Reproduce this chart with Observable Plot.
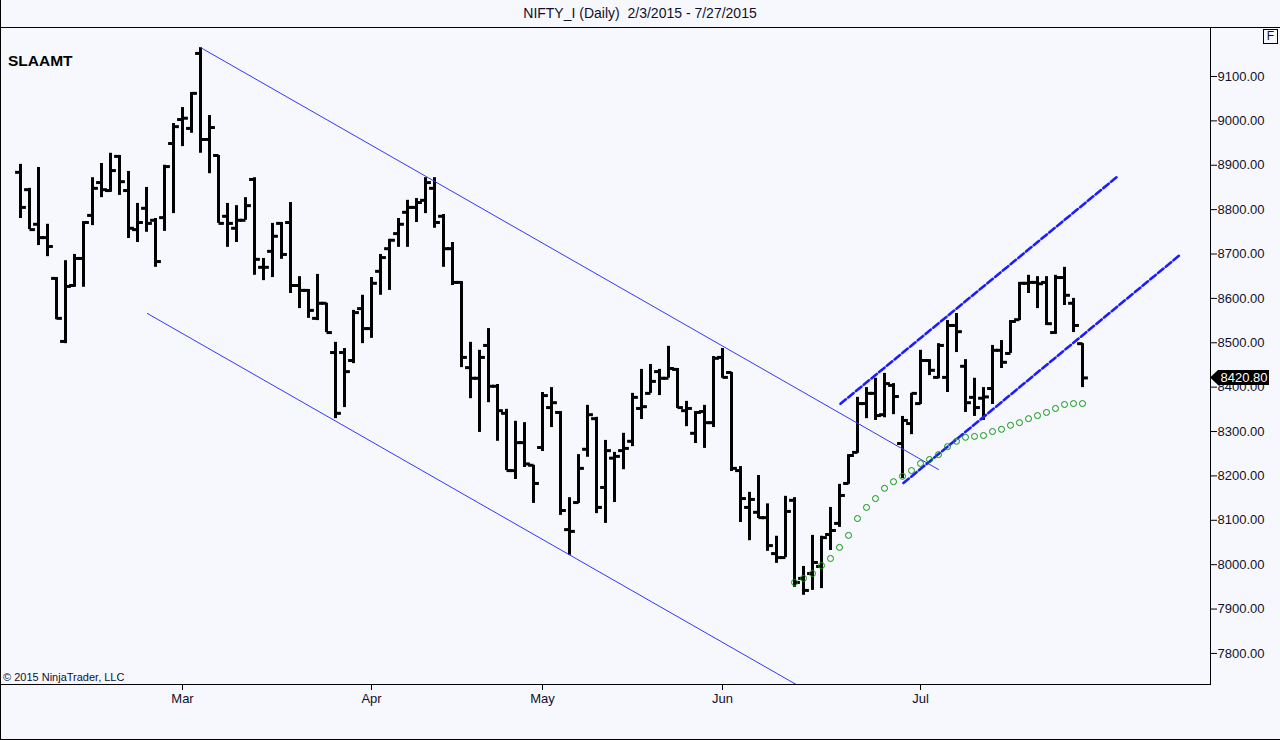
<!DOCTYPE html>
<html>
<head>
<meta charset="utf-8">
<script src="https://cdn.jsdelivr.net/npm/d3@7"></script>
<script src="https://cdn.jsdelivr.net/npm/@observablehq/plot@0.6"></script>
<style>
  html, body { margin: 0; padding: 0; background: #f7f8fe; }
  #wrap { position: relative; width: 1280px; height: 740px; overflow: hidden; background: #f7f8fe;
          font-family: "Liberation Sans", Arial, sans-serif; color: #10102a; }
  .ov { position: absolute; white-space: nowrap; }
  #title { top: 5px; left: 0; width: 1280px; text-align: center; font-size: 14px; line-height: 16px; }
  #topline { top: 26.5px; left: 0; width: 1280px; height: 0; border-top: 1px solid #000; }
  #border { top: 0; left: 0; width: 1280px; height: 740px; box-sizing: border-box;
            border-left: 1px solid #000; border-bottom: 1px solid #000; pointer-events: none; }
  #name { top: 52px; left: 8px; font-size: 15.5px; font-weight: bold; line-height: 18px; color: #000; }
  #copy { top: 671px; left: 3px; font-size: 11px; line-height: 13px; }
  #fbox { top: 29px; left: 1263px; width: 15px; height: 15px; box-sizing: border-box; border: 1px solid #000;
          font-size: 12px; line-height: 13px; text-align: center; }
</style>
</head>
<body>
<div id="wrap">
  <div id="chart"></div>
  <div class="ov" id="title">NIFTY_I (Daily)&nbsp; 2/3/2015 - 7/27/2015</div>
  <div class="ov" id="topline"></div>
  <div class="ov" id="name">SLAAMT</div>
  <div class="ov" id="copy">© 2015 NinjaTrader, LLC</div>
  <div class="ov" id="fbox">F</div>
  <div class="ov" id="border"></div>
</div>
<script>
// ---- data ----
// trading-day index 0 = Feb 3 2015 ... 118 = Jul 27 2015
const opens = [
  8884,8845,8767,8737,8645,8503,8629,8690,8787,8861,
  8843,8920,8843,8755,8803,8776,8782,8949,9003,8983,
  9152,8958,8922,8785,8758,8776,8868,8670,8706,8769,
  8771,8629,8618,8555,8589,8478,8478,8460,8577,8532,
  8661,8712,8746,8794,8805,8821,8848,8785,8712,8636,
  8444,8420,8494,8402,8341,8212,8275,8224,8264,8354,
  8343,8079,8140,8260,8329,8174,8240,8257,8278,8352,
  8386,8435,8420,8440,8347,8296,8345,8320,8467,8433,
  8212,8129,8118,8106,8025,8016,8145,7969,7980,7996,
  8068,8093,8183,8253,8363,8386,8338,8404,8273,8318,
  8363,8460,8422,8422,8539,8447,8377,8375,8397,8483,
  8476,8552,8634,8636,8636,8523,8647,8589,8498
];
const highs = [
  8902,8848,8895,8767,8647,8685,8699,8773,8872,8904,
  8927,8922,8886,8814,8850,8780,8900,8994,9030,9064,
  9165,9012,8922,8814,8809,8827,8872,8690,8769,8771,
  8816,8649,8620,8654,8589,8501,8487,8573,8607,8647,
  8699,8733,8780,8821,8825,8872,8872,8789,8726,8638,
  8501,8483,8532,8406,8350,8323,8320,8224,8388,8399,
  8345,8151,8248,8359,8332,8280,8253,8296,8386,8440,
  8451,8440,8492,8442,8368,8345,8359,8469,8487,8433,
  8221,8163,8201,8137,8064,8154,8151,7996,8066,8064,
  8129,8181,8248,8377,8399,8420,8431,8408,8334,8386,
  8483,8462,8498,8550,8566,8462,8420,8399,8494,8505,
  8550,8636,8652,8649,8649,8652,8670,8600,8498
];
const lows = [
  8780,8755,8719,8694,8552,8498,8625,8625,8764,8827,
  8839,8832,8735,8726,8749,8670,8751,8791,8942,8972,
  8927,8881,8769,8715,8726,8776,8652,8640,8647,8688,
  8611,8577,8555,8550,8523,8329,8354,8453,8498,8510,
  8607,8618,8715,8715,8771,8791,8758,8670,8629,8444,
  8374,8298,8365,8278,8212,8192,8219,8138,8255,8309,
  8111,8021,8138,8242,8115,8093,8140,8214,8266,8327,
  8386,8381,8420,8352,8311,8273,8262,8309,8420,8210,
  8095,8054,8104,8030,8003,8016,7949,7931,7942,7946,
  8032,8084,8181,8251,8329,8325,8331,8338,8194,8293,
  8361,8426,8419,8388,8478,8343,8334,8325,8361,8442,
  8476,8550,8611,8577,8539,8519,8584,8523,8399
];
const closes = [
  8805,8755,8737,8717,8555,8627,8690,8771,8848,8845,
  8888,8863,8758,8771,8769,8683,8897,8987,9006,9062,
  8958,8985,8769,8769,8776,8809,8688,8670,8740,8699,
  8629,8618,8573,8589,8523,8341,8435,8568,8532,8634,
  8692,8731,8767,8805,8816,8861,8771,8712,8636,8467,
  8420,8467,8402,8347,8212,8275,8227,8183,8381,8365,
  8122,8075,8217,8338,8129,8257,8244,8262,8377,8356,
  8413,8420,8442,8354,8352,8343,8320,8465,8422,8217,
  8149,8147,8106,8043,8016,8120,7960,7942,8005,8061,
  8077,8156,8246,8363,8386,8336,8408,8379,8325,8386,
  8460,8438,8494,8539,8525,8365,8354,8378,8483,8456,
  8548,8634,8636,8633,8543,8647,8607,8539,8420.8
];
// green dotted indicator, starting at trading-day index 86
const sarStart = 86;
const sar = [
  7960,7969,7980,7998,8014,8039,8066,8104,8129,8149,
  8172,8187,8199,8212,8228,8237,8248,8266,8278,8287,
  8289,8291,8300,8305,8314,8320,8329,8336,8343,8352,
  8361,8363,8363
];
// hand-drawn trend lines (index, price)
const channelUpper = [{i: 20, p: 9165.3}, {i: 102, p: 8214.4}];
const channelLower = [{i: 14.1, p: 8566}, {i: 88, p: 7709}];
const riseUpper = [{i: 91.11, p: 8362.5}, {i: 121.89, p: 8874.7}];
const riseLower = [{i: 98.11, p: 8184}, {i: 128.89, p: 8699}];
// axes
const monthTicks = [18, 39, 58, 78, 100];
const monthLabels = ["Mar", "Apr", "May", "Jun", "Jul"];
const yTicks = [7800, 7900, 8000, 8100, 8200, 8300, 8400, 8500, 8600, 8700, 8800, 8900, 9000, 9100];

// ---- build ----
const bars = opens.map((o, i) => ({i, o, h: highs[i], l: lows[i], c: closes[i]}));
const sarPts = sar.map((v, k) => ({i: sarStart + k, v}));
const ink = "#10102a";

const plot = Plot.plot({
  width: 1280,
  height: 740,
  marginTop: 27,
  marginBottom: 56,
  marginLeft: 0,
  marginRight: 70,
  style: {background: "transparent", fontFamily: "'Liberation Sans', Arial, sans-serif", fontSize: "13px", color: ink, overflow: "visible"},
  x: {domain: [-2.222, 132.222], axis: null},
  y: {domain: [7730, 9210.4], axis: null},
  marks: [
    Plot.frame({stroke: "#000"}),
    Plot.axisY({anchor: "right", ticks: yTicks, tickFormat: d => d.toFixed(2), tickSize: 6, tickPadding: 1, label: null, fontSize: 13, stroke: "#000"}),
    Plot.axisX({anchor: "bottom", ticks: monthTicks, tickFormat: d => monthLabels[monthTicks.indexOf(d)], tickSize: 6, tickPadding: 3, label: null, fontSize: 13, stroke: "#000"}),
    Plot.ruleX(bars, {x: "i", y1: "l", y2: "h", stroke: "#000", strokeWidth: 3}),
    Plot.link(bars, {x1: d => d.i - 0.6, x2: "i", y1: "o", y2: "o", stroke: "#000", strokeWidth: 3}),
    Plot.link(bars, {x1: "i", x2: d => d.i + 0.6, y1: "c", y2: "c", stroke: "#000", strokeWidth: 3}),
    Plot.line(channelUpper, {x: "i", y: "p", stroke: "#3535ff", strokeWidth: 1, clip: true}),
    Plot.line(channelLower, {x: "i", y: "p", stroke: "#3535ff", strokeWidth: 1, clip: true}),
    Plot.line(riseUpper, {x: "i", y: "p", stroke: "#1c1cff", strokeWidth: 2.6, strokeDasharray: "7,3", clip: true}),
    Plot.line(riseLower, {x: "i", y: "p", stroke: "#1c1cff", strokeWidth: 2.6, strokeDasharray: "7,3", clip: true}),
    Plot.dot(sarPts, {x: "i", y: "v", r: 3, stroke: "#0a940a", fill: "none", strokeWidth: 1})
  ]
});
document.getElementById("chart").appendChild(plot);

// last-price marker on the price axis
const last = closes[closes.length - 1];
const yy = plot.scale("y").apply(last);
const xr = plot.scale("x").range[1];
const svg = d3.select(plot);
const g = svg.append("g");
g.append("polygon")
  .attr("points", [[xr, yy], [xr + 8, yy - 7.5], [xr + 59, yy - 7.5], [xr + 59, yy + 7.5], [xr + 8, yy + 7.5]].map(p => p.join(",")).join(" "))
  .attr("fill", "#000");
g.append("text")
  .attr("x", xr + 34).attr("y", yy).attr("dy", "0.35em")
  .attr("text-anchor", "middle").attr("fill", "#fff")
  .attr("font-size", 13)
  .text(last.toFixed(2));
</script>
</body>
</html>
